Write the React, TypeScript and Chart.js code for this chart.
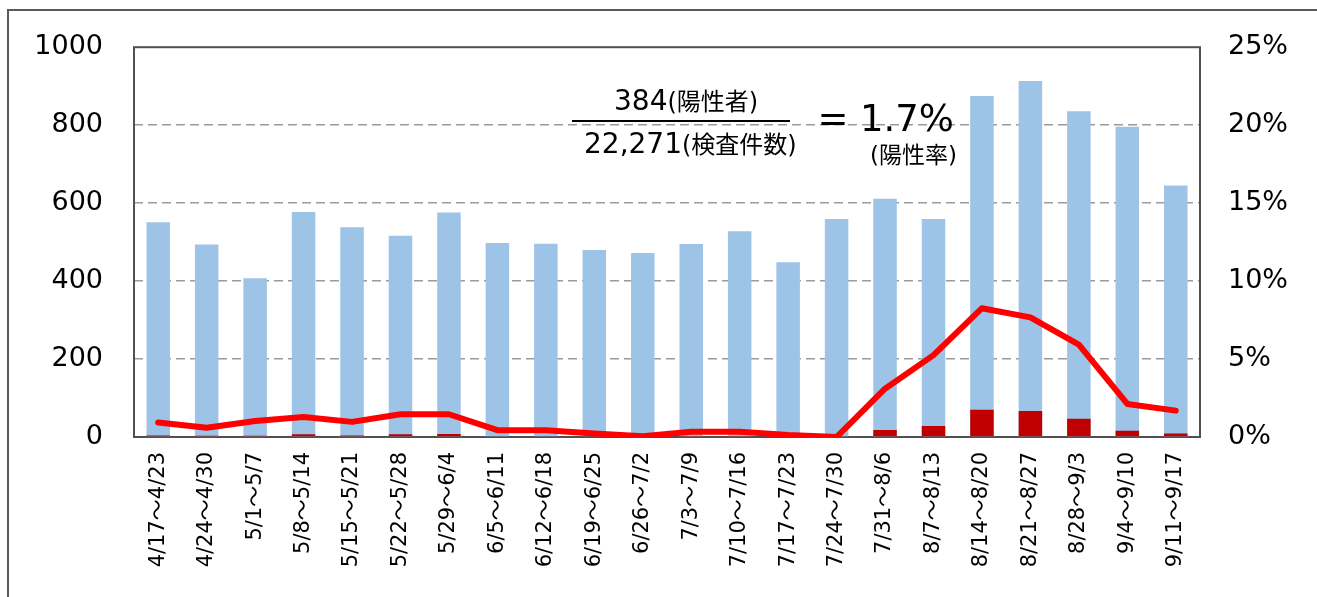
import React, { useEffect, useRef } from "react";
import { Chart, registerables } from "chart.js";

Chart.register(...registerables);

const categories = [
  "4/17～4/23", "4/24～4/30", "5/1～5/7", "5/8～5/14", "5/15～5/21", "5/22～5/28",
  "5/29～6/4", "6/5～6/11", "6/12～6/18", "6/19～6/25", "6/26～7/2", "7/3～7/9",
  "7/10～7/16", "7/17～7/23", "7/24～7/30", "7/31～8/6", "8/7～8/13", "8/14～8/20",
  "8/21～8/27", "8/28～9/3", "9/4～9/10", "9/11～9/17",
];

const testCounts = [
  551, 494, 407, 577, 538, 516, 576, 498, 496, 480, 472, 495,
  528, 448, 559, 611, 559, 875, 913, 836, 796, 645,
];

const positiveCounts = [
  4, 3, 3, 7, 4, 7, 8, 2, 2, 1, 0, 1,
  1, 0, 0, 18, 28, 70, 67, 47, 16, 9,
];

const positiveRates = [
  0.93, 0.59, 1.03, 1.28, 0.97, 1.46, 1.46, 0.44, 0.44, 0.23, 0.05, 0.34,
  0.34, 0.13, 0.0, 3.1, 5.25, 8.26, 7.67, 5.93, 2.12, 1.69,
];

const countTicks = { min: 0, max: 1000, step: 200 };
const rateTicks = { min: 0, max: 25, step: 5 };

const FONT = "'DejaVu Sans', 'Noto Sans CJK JP', sans-serif";

function drawPair(ctx: any, num: string, note: string, left: number, baseline: number) {
  ctx.font = `28px ${FONT}`;
  ctx.fillText(num, left, baseline);
  const w = ctx.measureText(num).width;
  ctx.font = `24px ${FONT}`;
  ctx.fillText(note, left + w, baseline);
}

const overlayPlugin = {
  id: "overlay",
  beforeDatasetsDraw(chart: any) {
    const { ctx, chartArea: a } = chart;
    ctx.save();
    ctx.strokeStyle = "#505050";
    ctx.lineWidth = 2;
    ctx.strokeRect(a.left, a.top, a.right - a.left, a.bottom - a.top);
    ctx.restore();
  },
  afterDraw(chart: any) {
    const { ctx } = chart;
    ctx.save();
    ctx.fillStyle = "#000";
    ctx.textBaseline = "alphabetic";
    ctx.textAlign = "left";
    drawPair(ctx, "384", "(陽性者)", 614, 110);
    drawPair(ctx, "22,271", "(検査件数)", 584, 153);
    ctx.strokeStyle = "#000";
    ctx.lineWidth = 2;
    ctx.beginPath();
    ctx.moveTo(572, 121);
    ctx.lineTo(790, 121);
    ctx.stroke();
    ctx.font = `37px ${FONT}`;
    ctx.textAlign = "center";
    ctx.fillText("=", 833, 131);
    ctx.textAlign = "left";
    ctx.fillText("1.7%", 860, 131);
    ctx.font = `23px ${FONT}`;
    ctx.fillText("(陽性率)", 870, 163);
    ctx.restore();
  },
};

export default function App() {
  const ref = useRef<HTMLCanvasElement | null>(null);

  useEffect(() => {
    if (!ref.current) return;
    const chart = new Chart(ref.current, {
      type: "bar",
      data: {
        labels: categories,
        datasets: [
          {
            type: "line",
            label: "陽性率",
            data: positiveRates,
            yAxisID: "y1",
            borderColor: "#FF0000",
            borderWidth: 6,
            pointRadius: 0,
            tension: 0,
            borderCapStyle: "round",
            borderJoinStyle: "round",
            order: 1,
          } as any,
          {
            type: "bar",
            label: "陽性者",
            data: positiveCounts,
            yAxisID: "y",
            backgroundColor: "#C00000",
            grouped: false,
            barPercentage: 0.485,
            categoryPercentage: 1,
            order: 2,
          } as any,
          {
            type: "bar",
            label: "検査件数",
            data: testCounts,
            yAxisID: "y",
            backgroundColor: "#9DC3E6",
            grouped: false,
            barPercentage: 0.485,
            categoryPercentage: 1,
            order: 3,
          } as any,
        ],
      },
      options: {
        animation: false,
        responsive: false,
        layout: { padding: { top: 42, left: 0, right: 0, bottom: 0 } },
        plugins: {
          legend: { display: false },
          tooltip: { enabled: false },
        },
        scales: {
          x: {
            offset: true,
            grid: { display: false, drawTicks: false },
            border: { display: false },
            ticks: {
              autoSkip: false,
              maxRotation: 90,
              minRotation: 90,
              padding: 15,
              color: "#000",
              font: { family: FONT, size: 21 },
            },
            afterFit: (s: any) => {
              s.height = 160;
            },
          },
          y: {
            position: "left",
            min: countTicks.min,
            max: countTicks.max,
            grid: {
              color: (c: any) =>
                c.tick && (c.tick.value === 0 || c.tick.value === 1000) ? "rgba(0,0,0,0)" : "#9a9a9a",
              lineWidth: 1.5,
              drawTicks: false,
            },
            border: { display: false, dash: [9, 5] },
            ticks: {
              stepSize: countTicks.step,
              padding: 31,
              color: "#000",
              font: { family: FONT, size: 27 },
              callback: (v: any) => String(v),
            },
            afterFit: (s: any) => {
              s.width = 134;
            },
          },
          y1: {
            position: "right",
            min: rateTicks.min,
            max: rateTicks.max,
            grid: { display: false, drawTicks: false },
            border: { display: false },
            ticks: {
              stepSize: rateTicks.step,
              padding: 28,
              color: "#000",
              font: { family: FONT, size: 27 },
              callback: (v: any) => `${v}%`,
            },
            afterFit: (s: any) => {
              s.width = 117;
            },
          },
        },
      } as any,
      plugins: [overlayPlugin],
    });
    return () => chart.destroy();
  }, []);

  return (
    <div
      style={{
        position: "fixed",
        left: 0,
        top: 0,
        width: 1317,
        height: 597,
        overflow: "hidden",
        background: "#fff",
      }}
    >
      <div
        style={{
          position: "absolute",
          left: 7,
          top: 9,
          width: 1400,
          height: 800,
          border: "2px solid #5a5a5a",
          boxSizing: "border-box",
        }}
      />
      <canvas
        ref={ref}
        width={1317}
        height={597}
        style={{ position: "absolute", left: 0, top: 0, width: 1317, height: 597 }}
      />
    </div>
  );
}
